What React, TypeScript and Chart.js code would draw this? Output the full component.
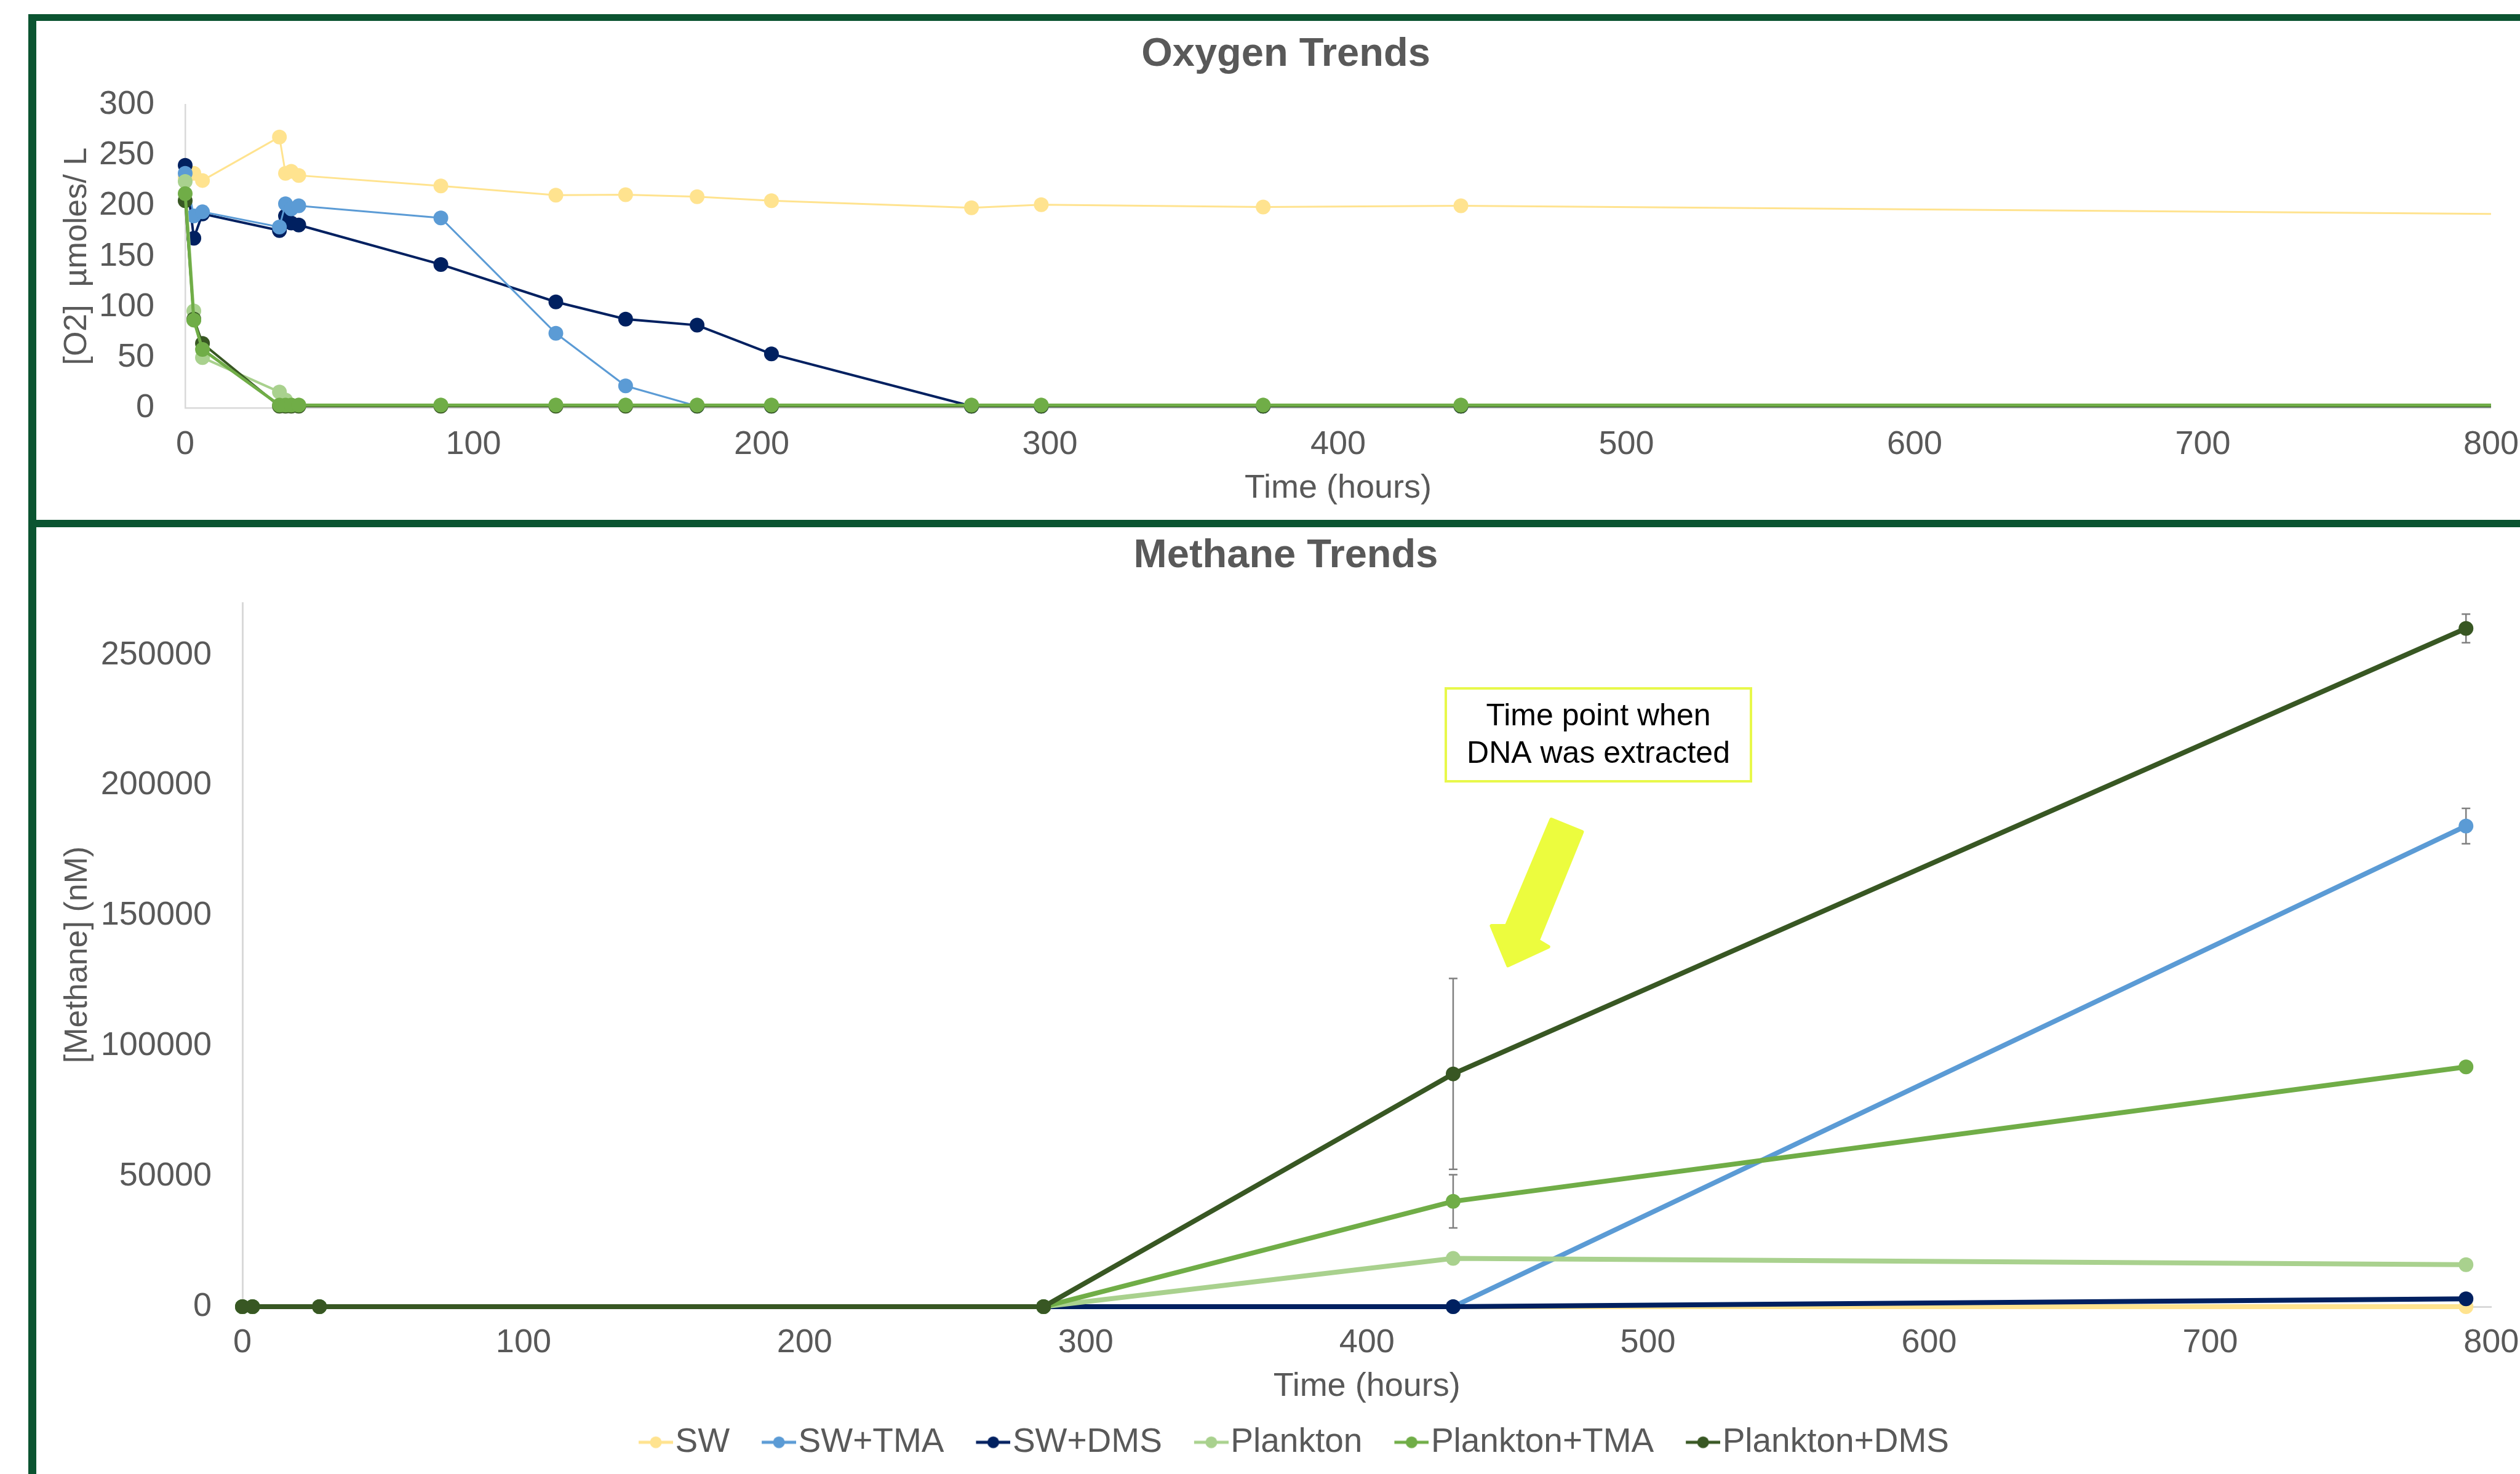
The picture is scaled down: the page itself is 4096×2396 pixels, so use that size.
import React, { useEffect, useRef } from "react";
import { Chart, registerables } from "chart.js";

Chart.register(...registerables);

const FONT = "'Liberation Sans', Arial, Helvetica, sans-serif";
const TEXT_GRAY = "#595959";
const FRAME_GREEN = "#0B5431";

// ---- series ----
const seriesNames = ["SW", "SW+TMA", "SW+DMS", "Plankton", "Plankton+TMA", "Plankton+DMS"];
const seriesColors = ["#FFE38F", "#5B9BD5", "#002060", "#A9D18E", "#70AD47", "#385723"];

// ---- Oxygen (µmoles/L) ----
const oxTime = [0, 3, 6, 32.7, 34.8, 36.8, 39.4, 88.7, 128.6, 152.8, 177.6, 203.4, 272.8, 297, 374, 442.6, 800];
const oxSW = [228, 232, 225, 268, 232, 234, 230, 219.6, 210.5, 211, 209, 205, 198, 201, 198.8, 200, 192];
const oxSWTMA = [232, 190, 194, 179, 202, 197, 200, 188, 74, 22, 2, 2, 2, 2, 2, 2, 2];
const oxSWDMS = [240, 168, 192, 175.5, 190, 183, 181, 142, 105, 88, 82, 53.6, 2, 2, 2, 2, 2];
const oxPlankton = [224, 96, 50, 16, 8, 3, 3, 3, 3, 3, 3, 3, 3, 3, 3, 3, 3];
const oxPlanktonTMA = [212, 87, 58, 3, 3, 3, 3, 3, 3, 3, 3, 3, 3, 3, 3, 3, 3];
const oxPlanktonDMS = [205, 88, 64, 2, 2, 2, 2, 2, 2, 2, 2, 2, 2, 2, 2, 2, 2];
const oxSeries = [oxSW, oxSWTMA, oxSWDMS, oxPlankton, oxPlanktonTMA, oxPlanktonDMS];
const oxLineWidths = [3, 3, 4, 4, 5, 4];
const oxDrawOrder = [10, 8, 9, 7, 5, 6];
const oxTicksY = [0, 50, 100, 150, 200, 250, 300];
const timeTicks = [0, 100, 200, 300, 400, 500, 600, 700, 800];

// ---- Methane (nM) ----
const methaneTime = [0, 3.6, 27.4, 285, 430.7, 791];
const chSW = [0, 0, 0, 0, 0, 0];
const chSWTMA = [0, 0, 0, 0, 0, 184400];
const chSWDMS = [0, 0, 0, 0, 0, 3000];
const chPlankton = [0, 0, 0, 0, 18500, 16100];
const chPlanktonTMA = [0, 0, 0, 0, 40400, 92000];
const chPlanktonDMS = [0, 0, 0, 0, 89300, 260200];
const methaneSeries = [chSW, chSWTMA, chSWDMS, chPlankton, chPlanktonTMA, chPlanktonDMS];
const errSW = [0, 0, 0, 0, 0, 0];
const errSWTMA = [0, 0, 0, 0, 0, 6800];
const errSWDMS = [0, 0, 0, 0, 0, 0];
const errPlankton = [0, 0, 0, 0, 0, 0];
const errPlanktonTMA = [0, 0, 0, 0, 10200, 0];
const errPlanktonDMS = [0, 0, 0, 0, 36600, 5500];
const methaneErrors = [errSW, errSWTMA, errSWDMS, errPlankton, errPlanktonTMA, errPlanktonDMS];
const methaneTicksY = [0, 50000, 100000, 150000, 200000, 250000];
const annotationLines = ["Time point when", "DNA was extracted"];

const CANVAS_W = 4062;
const TOP_H = 811;
const BOTTOM_H = 1539;

function makeLegendIcon(color: string) {
  const c = document.createElement("canvas");
  c.width = 106;
  c.height = 28;
  const g = c.getContext("2d")!;
  g.strokeStyle = color;
  g.lineWidth = 5;
  g.beginPath();
  g.moveTo(50, 14);
  g.lineTo(106, 14);
  g.stroke();
  g.fillStyle = color;
  g.beginPath();
  g.arc(78, 14, 9.5, 0, Math.PI * 2);
  g.fill();
  return c;
}

const errorBarPlugin = {
  id: "methaneErrorBars",
  beforeDatasetsDraw(chart: any) {
    const { ctx, scales } = chart;
    const xs = scales.x;
    const ys = scales.y;
    ctx.save();
    ctx.strokeStyle = "#7F7F7F";
    ctx.lineWidth = 2.5;
    methaneErrors.forEach((errs, si) => {
      errs.forEach((e, i) => {
        if (!e) return;
        const v = methaneSeries[si][i];
        const px = xs.getPixelForValue(methaneTime[i]);
        const top = ys.getPixelForValue(v + e);
        const bot = ys.getPixelForValue(v - e);
        ctx.beginPath();
        ctx.moveTo(px, top);
        ctx.lineTo(px, bot);
        ctx.moveTo(px - 7, top);
        ctx.lineTo(px + 7, top);
        ctx.moveTo(px - 7, bot);
        ctx.lineTo(px + 7, bot);
        ctx.stroke();
      });
    });
    ctx.restore();
  },
};

const annotationPlugin = {
  id: "dnaAnnotation",
  afterDraw(chart: any) {
    const ctx = chart.ctx;
    ctx.save();
    ctx.fillStyle = "#FFFFFF";
    ctx.fillRect(2291, 262, 496, 151);
    ctx.strokeStyle = "#E8F84A";
    ctx.lineWidth = 4;
    ctx.strokeRect(2291, 262, 496, 151);
    ctx.fillStyle = "#000000";
    ctx.font = `50px ${FONT}`;
    ctx.textAlign = "center";
    ctx.textBaseline = "middle";
    ctx.fillText(annotationLines[0], 2539, 308);
    ctx.fillText(annotationLines[1], 2539, 369);
    ctx.fillStyle = "#ECFC3E";
    ctx.strokeStyle = "#ECFC3E";
    ctx.lineJoin = "round";
    ctx.lineWidth = 6;
    ctx.beginPath();
    ctx.moveTo(2462.5, 475);
    ctx.lineTo(2512.4, 495.4);
    ctx.lineTo(2440.6, 671.8);
    ctx.lineTo(2457.7, 682);
    ctx.lineTo(2392.2, 712.4);
    ctx.lineTo(2365.5, 648);
    ctx.lineTo(2389.7, 648);
    ctx.closePath();
    ctx.fill();
    ctx.stroke();
    ctx.restore();
  },
};

function dummyRightAxis() {
  return {
    type: "linear",
    position: "right",
    display: true,
    grid: { display: false },
    border: { display: false },
    ticks: { display: false },
    afterFit: (s: any) => {
      s.width = 69;
    },
  };
}

export default function App() {
  const topRef = useRef<HTMLCanvasElement | null>(null);
  const botRef = useRef<HTMLCanvasElement | null>(null);

  useEffect(() => {
    Chart.defaults.font.family = FONT;
    Chart.defaults.color = TEXT_GRAY;
    const lastOx = oxTime.length - 1;

    const topChart = new Chart(topRef.current!, {
      type: "line",
      data: {
        datasets: seriesNames.map((name, si) => ({
          label: name,
          data: oxTime.map((t, i) => ({ x: t, y: oxSeries[si][i] })),
          borderColor: seriesColors[si],
          backgroundColor: seriesColors[si],
          pointBackgroundColor: seriesColors[si],
          pointBorderColor: seriesColors[si],
          pointBorderWidth: 0,
          borderWidth: oxLineWidths[si],
          pointRadius: (c: any) => (c.dataIndex === lastOx ? 0 : 12),
          tension: 0,
          clip: false,
          order: oxDrawOrder[si],
        })),
      },
      options: {
        responsive: false,
        animation: false,
        devicePixelRatio: 1,
        events: [],
        layout: { padding: { top: 0, left: 0, right: 0, bottom: 8.6 } },
        plugins: {
          legend: { display: false },
          tooltip: { enabled: false },
          title: {
            display: true,
            text: "Oxygen Trends",
            color: TEXT_GRAY,
            font: { family: FONT, size: 65, weight: "bold" },
            padding: { top: 16, bottom: 42 },
          },
        },
        scales: {
          x: {
            type: "linear",
            min: 0,
            max: 800,
            grid: { display: false, drawTicks: false },
            border: { display: true, color: "#D9D9D9", width: 2.5 },
            afterBuildTicks: (s: any) => {
              s.ticks = timeTicks.map((v) => ({ value: v }));
            },
            ticks: { padding: 27, color: TEXT_GRAY, font: { size: 54 }, maxRotation: 0, autoSkip: false, callback: (v: any) => String(v) },
            title: { display: true, text: "Time (hours)", color: TEXT_GRAY, font: { size: 54 }, padding: { top: 0, bottom: 10 } },
            afterFit: (s: any) => {
              s.height = 172.9;
            },
          },
          y: {
            type: "linear",
            min: 0,
            max: 300,
            grid: { display: false, drawTicks: false },
            border: { display: true, color: "#D9D9D9", width: 2.5 },
            afterBuildTicks: (s: any) => {
              s.ticks = oxTicksY.map((v) => ({ value: v }));
            },
            ticks: { padding: 50, color: TEXT_GRAY, font: { size: 54 }, callback: (v: any) => String(v) },
            title: { display: true, text: "[O2]  µmoles/ L", color: TEXT_GRAY, font: { size: 52 }, padding: { top: 35, bottom: 0 } },
            afterFit: (s: any) => {
              s.width = 242;
            },
          },
          yR: dummyRightAxis(),
        },
      } as any,
    });

    const icons = seriesColors.map((c) => makeLegendIcon(c));

    const botChart = new Chart(botRef.current!, {
      type: "line",
      data: {
        datasets: seriesNames.map((name, si) => ({
          label: name,
          data: methaneTime.map((t, i) => ({ x: t, y: methaneSeries[si][i] })),
          borderColor: seriesColors[si],
          backgroundColor: seriesColors[si],
          pointBackgroundColor: seriesColors[si],
          pointBorderColor: seriesColors[si],
          pointBorderWidth: 0,
          borderWidth: 8,
          pointRadius: 12,
          tension: 0,
          clip: false,
          order: 10 - si,
        })),
      },
      plugins: [errorBarPlugin, annotationPlugin],
      options: {
        responsive: false,
        animation: false,
        devicePixelRatio: 1,
        events: [],
        layout: { padding: { top: 0, left: 0, right: 0, bottom: 14 } },
        plugins: {
          tooltip: { enabled: false },
          title: {
            display: true,
            text: "Methane Trends",
            color: TEXT_GRAY,
            font: { family: FONT, size: 65, weight: "bold" },
            padding: { top: 8, bottom: 37 },
          },
          legend: {
            display: true,
            position: "bottom",
            align: "center",
            labels: {
              usePointStyle: true,
              pointStyleWidth: 58,
              padding: 26,
              color: TEXT_GRAY,
              font: { size: 55 },
              generateLabels: (chart: any) =>
                chart.data.datasets.map((ds: any, i: number) => ({
                  text: ds.label,
                  fillStyle: seriesColors[i],
                  strokeStyle: seriesColors[i],
                  lineWidth: 0,
                  pointStyle: icons[i],
                  hidden: false,
                  datasetIndex: i,
                  fontColor: TEXT_GRAY,
                })),
            },
          },
        },
        scales: {
          x: {
            type: "linear",
            min: 0,
            max: 800,
            grid: { display: false, drawTicks: false },
            border: { display: true, color: "#D9D9D9", width: 3 },
            afterBuildTicks: (s: any) => {
              s.ticks = timeTicks.map((v) => ({ value: v }));
            },
            ticks: { padding: 26.6, color: TEXT_GRAY, font: { size: 54 }, maxRotation: 0, autoSkip: false, callback: (v: any) => String(v) },
            title: { display: true, text: "Time (hours)", color: TEXT_GRAY, font: { size: 54 }, padding: { top: 0, bottom: 4.6 } },
            afterFit: (s: any) => {
              s.height = 167;
            },
          },
          y: {
            type: "linear",
            min: 0,
            max: 270000,
            grid: { display: false, drawTicks: false },
            border: { display: true, color: "#D9D9D9", width: 3 },
            afterBuildTicks: (s: any) => {
              s.ticks = methaneTicksY.map((v) => ({ value: v }));
            },
            ticks: { padding: 50, color: TEXT_GRAY, font: { size: 54 }, callback: (v: any) => String(v) },
            title: { display: true, text: "[Methane] (nM)", color: TEXT_GRAY, font: { size: 52 }, padding: { top: 36, bottom: 0 } },
            afterFit: (s: any) => {
              s.width = 335;
            },
          },
          yR: dummyRightAxis(),
        },
      } as any,
    });

    return () => {
      topChart.destroy();
      botChart.destroy();
    };
  }, []);

  return (
    <div
      style={{
        position: "absolute",
        left: 0,
        top: 0,
        width: 4096,
        height: 2396,
        overflow: "hidden",
        background: "#FFFFFF",
      }}
    >
      <canvas
        ref={topRef}
        width={CANVAS_W}
        height={TOP_H}
        style={{ position: "absolute", left: 59, top: 34, width: CANVAS_W, height: TOP_H }}
      />
      <canvas
        ref={botRef}
        width={CANVAS_W}
        height={BOTTOM_H}
        style={{ position: "absolute", left: 59, top: 857, width: CANVAS_W, height: BOTTOM_H }}
      />
      <div
        style={{
          position: "absolute",
          left: 46,
          top: 23,
          width: 4300,
          height: 2600,
          boxSizing: "border-box",
          borderLeft: `13px solid ${FRAME_GREEN}`,
          borderTop: `11px solid ${FRAME_GREEN}`,
          pointerEvents: "none",
        }}
      />
      <div
        style={{
          position: "absolute",
          left: 46,
          top: 845,
          width: 4300,
          height: 12,
          background: FRAME_GREEN,
          pointerEvents: "none",
        }}
      />
    </div>
  );
}
